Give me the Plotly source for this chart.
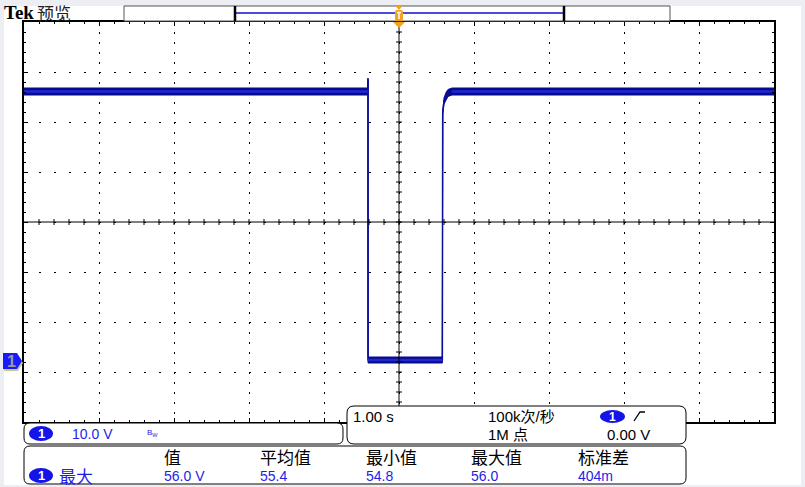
import plotly.graph_objects as go

# ---------------- data read from the screen ----------------
# waveform centre path (seconds, volts) and noise envelope
t_wave = [-5.0, -0.416, -0.4135, -0.4125, 0.578, 0.5825, 0.600, 0.627, 0.653, 0.707, 5.0]
v_wave = [53.7, 53.7, 56.2, 0.0, 0.0, 49.4, 51.8, 52.8, 53.4, 53.7, 53.7]
v_upper = [54.4, 54.4, 56.4, 0.6, 0.6, 49.6, 52.4, 53.5, 54.1, 54.4, 54.4]
v_lower = [53.0, 53.0, 55.8, -0.6, -0.6, 49.0, 51.2, 52.1, 52.7, 53.0, 53.0]

volts_per_div = 10.0
sec_per_div = 1.00
ground_offset_div = -2.76   # ground marker position (divisions below centre)

ch_label = "1"
ch_scale_text = "10.0 V"
timebase_text = "1.00 s"
sample_rate_text = "100k次/秒"
record_len_text = "1M 点"
trig_level_text = "0.00 V"
meas_name = "最大"
meas_headers = ["值", "平均值", "最小值", "最大值", "标准差"]
meas_values = ["56.0 V", "55.4", "54.8", "56.0", "404m"]

# ---------------- geometry / style ----------------
W, H = 805, 487
L, T, PW, PH = 24, 22, 750, 400
BLUE_TXT = "#1e1ee6"
PILL = "#1414e8"
ORANGE = "#f5a21e"
FONT = "Liberation Sans, Noto Sans CJK SC, sans-serif"
CJK = "Noto Sans CJK SC, sans-serif"


def fx(x):
    return (x - L) / PW


def fy(y):
    return (T + PH - y) / PH


def pth(points):
    return "M" + " L".join(f"{fx(a):.5f},{fy(b):.5f}" for a, b in points) + " Z"


def rrect(x0, y0, x1, y1, r):
    P = lambda a, b: f"{fx(a):.5f},{fy(b):.5f}"
    return (f"M{P(x0 + r, y0)} L{P(x1 - r, y0)} Q{P(x1, y0)} {P(x1, y0 + r)} "
            f"L{P(x1, y1 - r)} Q{P(x1, y1)} {P(x1 - r, y1)} L{P(x0 + r, y1)} "
            f"Q{P(x0, y1)} {P(x0, y1 - r)} L{P(x0, y0 + r)} Q{P(x0, y0)} {P(x0 + r, y0)} Z")


centre_v = -ground_offset_div * volts_per_div
y_range = [centre_v - 4 * volts_per_div, centre_v + 4 * volts_per_div]
x_range = [-5 * sec_per_div, 5 * sec_per_div]

fig = go.Figure()

BAND = "#0a0a8c"
# noise band
fig.add_trace(go.Scatter(x=t_wave, y=v_lower, mode="lines",
                         line=dict(color=BAND, width=1), hoverinfo="skip", showlegend=False))
fig.add_trace(go.Scatter(x=t_wave, y=v_upper, mode="lines", fill="tonexty", fillcolor=BAND,
                         line=dict(color=BAND, width=1), hoverinfo="skip", showlegend=False))
# edges / main path
fig.add_trace(go.Scatter(x=t_wave, y=v_wave, mode="lines",
                         line=dict(color="#0c0ca0", width=1.5), hoverinfo="skip", showlegend=False))
# brighter centre on the flat parts
hx, hy = [], []
for i in range(len(t_wave) - 1):
    if v_wave[i] == v_wave[i + 1]:
        hx += [t_wave[i], t_wave[i + 1], None]
        hy += [v_wave[i], v_wave[i + 1], None]
fig.add_trace(go.Scatter(x=hx, y=hy, mode="lines",
                         line=dict(color="#1c2ad0", width=2.5), hoverinfo="skip", showlegend=False))

ax_common = dict(showticklabels=False, zeroline=False, fixedrange=True)

fig.update_layout(
    width=W, height=H,
    margin=dict(l=L, r=W - L - PW, t=T, b=H - T - PH, pad=0),
    paper_bgcolor="#eceef3", plot_bgcolor="white",
    showlegend=False,
    xaxis=dict(range=x_range, dtick=sec_per_div, tick0=0, showgrid=True, gridcolor="black",
               gridwidth=1, griddash="2px,8px", showline=True, linecolor="black", linewidth=2,
               mirror="ticks", ticks="inside", ticklen=4, tickcolor="black", tickwidth=1,
               minor=dict(dtick=sec_per_div / 5, tick0=0, ticks="inside", ticklen=2,
                          tickcolor="black", showgrid=False), **ax_common),
    yaxis=dict(range=y_range, dtick=volts_per_div, tick0=centre_v, showgrid=True, gridcolor="black",
               gridwidth=1, griddash="2px,13px", showline=True, linecolor="black", linewidth=2,
               mirror="ticks", ticks="inside", ticklen=4, tickcolor="black", tickwidth=1,
               minor=dict(dtick=volts_per_div / 5, tick0=centre_v, ticks="inside", ticklen=2,
                          tickcolor="black", showgrid=False), **ax_common),
)

shapes = []
ann = []


def S(**kw):
    d = dict(xref="paper", yref="paper", layer="above")
    d.update(kw)
    shapes.append(d)


def A(x, y, text, color="black", size=14, family=FONT, xanchor="left", **kw):
    ann.append(dict(xref="paper", yref="paper", x=fx(x), y=fy(y), text=text, showarrow=False,
                    xanchor=xanchor, yanchor="middle", font=dict(color=color, size=size, family=family),
                    **kw))


# white screen area over light-gray frame
S(type="rect", x0=fx(4), x1=fx(801), y0=fy(6), y1=fy(485), fillcolor="white", line=dict(width=0), layer="below")

# centre cross lines with graticule ticks
S(type="line", x0=0.5, x1=0.5, y0=0, y1=1, line=dict(color="black", width=1))
S(type="line", x0=0, x1=1, y0=0.5, y1=0.5, line=dict(color="black", width=1))
hx_tick = 3.0 / PW
hy_tick = 3.0 / PH
n_xt = int(round((x_range[1] - x_range[0]) / (sec_per_div / 5)))
for k in range(1, n_xt):
    tx = x_range[0] + k * sec_per_div / 5
    shapes.append(dict(type="line", xref="x", yref="paper", x0=tx, x1=tx, y0=0.5 - hy_tick,
                       y1=0.5 + hy_tick, line=dict(color="black", width=1), layer="above"))
n_yt = int(round((y_range[1] - y_range[0]) / (volts_per_div / 5)))
for k in range(1, n_yt):
    tv = y_range[0] + k * volts_per_div / 5
    shapes.append(dict(type="line", xref="paper", yref="y", x0=0.5 - hx_tick, x1=0.5 + hx_tick,
                       y0=tv, y1=tv, line=dict(color="black", width=1), layer="above"))

# record bar at top
S(type="rect", x0=fx(124), x1=fx(670), y0=fy(6), y1=fy(21), fillcolor="white", line=dict(color="#555555", width=1))
S(type="line", x0=fx(235), x1=fx(564), y0=fy(13), y1=fy(13), line=dict(color="#1010d0", width=1.5))
for bx in (235, 564):
    S(type="line", x0=fx(bx), x1=fx(bx), y0=fy(6), y1=fy(21), line=dict(color="black", width=2.5))
# trigger position marker
S(type="path", path=pth([(395.5, 6), (402.5, 6), (399, 10)]), fillcolor=ORANGE, line=dict(width=0))
S(type="path", path=rrect(395, 10, 403, 21, 2), fillcolor=ORANGE, line=dict(width=0))
S(type="line", x0=fx(397), x1=fx(401), y0=fy(12.5), y1=fy(12.5), line=dict(color="white", width=1.5))
S(type="line", x0=fx(399), x1=fx(399), y0=fy(12.5), y1=fy(19), line=dict(color="white", width=1.5))
S(type="path", path=pth([(393, 22), (405, 22), (399, 28)]), fillcolor=ORANGE, line=dict(width=0))

# channel ground marker
S(type="path", path=pth([(4, 355), (18, 355), (23, 363), (18, 371), (4, 371)]), fillcolor="#c9c98a", line=dict(width=0))
S(type="path", path=pth([(3, 353), (17, 353), (22, 361), (17, 369), (3, 369)]), fillcolor="#1a1aff", line=dict(width=0))
A(11.5, 361.5, "<b>1</b>", color="#9a9a9a", size=16, xanchor="center")

# panels
S(type="path", path=rrect(24, 423, 343, 444, 6), fillcolor="white", line=dict(color="black", width=1))
S(type="path", path=rrect(347, 406, 686, 444, 7), fillcolor="white", line=dict(color="black", width=1))
S(type="path", path=rrect(24, 446, 686, 484, 6), fillcolor="white", line=dict(color="black", width=1))

# channel panel
S(type="circle", x0=fx(29), x1=fx(53), y0=fy(426), y1=fy(441), fillcolor=PILL, line=dict(width=0))
A(41, 433.5, f"<b>{ch_label}</b>", color="white", size=13, xanchor="center")
A(70, 433.5, ch_scale_text, color=BLUE_TXT, size=14)
A(145, 433, "B<sub>W</sub>", color=BLUE_TXT, size=8)

# timebase panel
A(351, 416, timebase_text, size=15)
A(486, 416, sample_rate_text, size=15, family=FONT)
S(type="circle", x0=fx(600), x1=fx(625), y0=fy(410), y1=fy(423), fillcolor=PILL, line=dict(width=0))
A(612.5, 416.5, f"<b>{ch_label}</b>", color="white", size=12, xanchor="center")
S(type="path", path="M" + f"{fx(634):.5f},{fy(421):.5f} L{fx(640):.5f},{fy(412):.5f} L{fx(645):.5f},{fy(412):.5f}",
  line=dict(color="black", width=1.3))
A(486, 434.5, record_len_text, size=15)
A(605, 434.5, trig_level_text, size=15)

# measurement panel
col_x = [162, 258, 364, 469, 576]
S(type="circle", x0=fx(29), x1=fx(53), y0=fy(468), y1=fy(483), fillcolor=PILL, line=dict(width=0))
A(41, 475.5, f"<b>{ch_label}</b>", color="white", size=13, xanchor="center")
A(57, 475.5, meas_name, color=BLUE_TXT, size=17, family=CJK)
for cx, h, v in zip(col_x, meas_headers, meas_values):
    A(cx, 456.5, h, size=17, family=CJK)
    A(cx, 476, v, color=BLUE_TXT, size=14)

# header
A(2, 12.5, "<b>Tek</b>", size=19, family="Liberation Serif, serif")
A(35, 12.5, "预览", size=17, color="#222222", family=CJK)

fig.update_layout(shapes=shapes, annotations=ann)
fig.write_html("out.html", config={"displayModeBar": False},
               post_script="document.body.style.margin='0';document.body.style.overflow='hidden';")
